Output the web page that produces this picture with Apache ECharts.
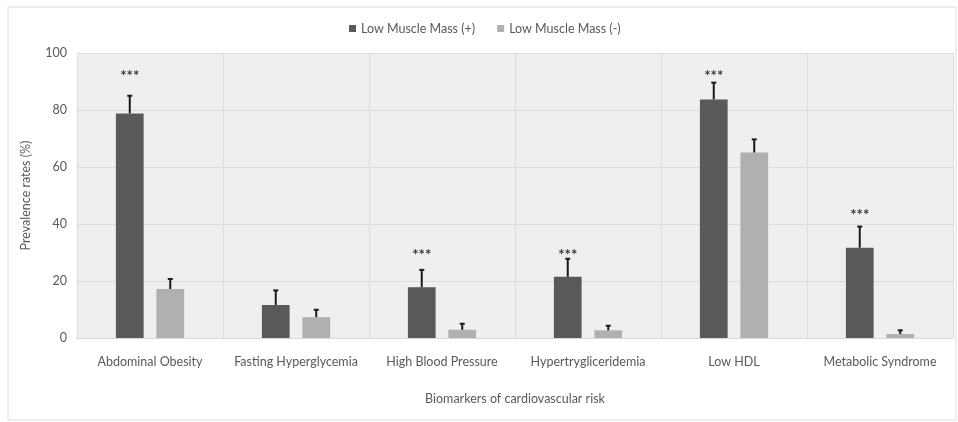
<!DOCTYPE html>
<html>
<head>
<meta charset="utf-8">
<script src="https://cdn.jsdelivr.net/npm/echarts@6/dist/echarts.min.js"></script>
<style>html,body{margin:0;padding:0;background:#fff}#c{width:958px;height:422px}</style>
</head>
<body>
<div id="c"></div>
<script>
var categories = ['Abdominal Obesity','Fasting Hyperglycemia','High Blood Pressure','Hypertrygliceridemia','Low HDL','Metabolic Syndrome'];
var seriesNames = ['Low Muscle Mass (+)','Low Muscle Mass (-)'];
var lowMassPos = [78.8, 11.6, 17.8, 21.5, 83.7, 31.7];
var lowMassPosErr = [85.0, 16.7, 23.9, 27.8, 89.6, 39.1];
var lowMassNeg = [17.2, 7.3, 2.9, 2.7, 65.1, 1.4];
var lowMassNegErr = [20.7, 9.9, 5.0, 4.3, 69.7, 2.7];
var significance = ['***', '', '***', '***', '***', '***'];
var significanceLevel = [93, null, 30, 30, 93, 44];
var yTicks = [0, 20, 40, 60, 80, 100];

var FONT = 'Lato';
var TXT = '#595959';
var FS = 12.5;
var BAR_W = 0.19, BAR_GAP = 0.46;

function errorSeries(name, means, uppers, side) {
  var data = means.map(function (m, i) { return [i, m, uppers[i], significanceLevel[i] == null ? 0 : significanceLevel[i]]; });
  return {
    type: 'custom',
    name: name + ' err',
    z: 5,
    silent: true,
    data: data,
    renderItem: function (params, api) {
      var idx = api.value(0);
      var band = api.size([1, 0])[0];
      var bw = band * BAR_W;
      var off = side * (bw + bw * BAR_GAP) / 2;
      var base = api.coord([idx, api.value(1)]);
      var top = api.coord([idx, api.value(2)]);
      var x = base[0] + off;
      var children = [
        { type: 'line', shape: { x1: x, y1: base[1], x2: x, y2: top[1] }, style: { stroke: '#1a1a1a', lineWidth: 2 } },
        { type: 'line', shape: { x1: x - 2.5, y1: top[1], x2: x + 2.5, y2: top[1] }, style: { stroke: '#1a1a1a', lineWidth: 2 } }
      ];
      var di = params.dataIndex;
      if (side < 0 && significance[di]) {
        var sp = api.coord([idx, api.value(3)]);
        children.push({ type: 'text', style: { text: significance[di], x: x, y: sp[1] + 3, align: 'center', verticalAlign: 'middle', fill: '#3a3a3a', font: 'bold 15px ' + FONT } });
      }
      return { type: 'group', children: children };
    }
  };
}

var chart = echarts.init(document.getElementById('c'), null, { renderer: 'canvas' });
chart.setOption({
  backgroundColor: '#ffffff',
  animation: false,
  textStyle: { fontFamily: FONT },
  graphic: [{ type: 'rect', shape: { x: 8, y: 7, width: 948, height: 413 }, style: { fill: 'none', stroke: '#dcdcdc', lineWidth: 1 }, silent: true, z: -1 }],
  legend: {
    data: seriesNames,
    top: 17,
    left: 344,
    itemWidth: 7,
    itemHeight: 7,
    itemGap: 22,
    icon: 'rect',
    textStyle: { color: TXT, fontSize: FS, fontFamily: FONT }
  },
  grid: {
    left: 77, right: 5, top: 53, bottom: 84,
    show: true, backgroundColor: '#efefef', borderWidth: 0
  },
  xAxis: {
    type: 'category',
    data: categories,
    name: 'Biomarkers of cardiovascular risk',
    nameLocation: 'middle',
    nameGap: 54,
    nameTextStyle: { color: TXT, fontSize: FS },
    axisLine: { lineStyle: { color: '#d9d9d9' } },
    axisTick: { show: false },
    axisLabel: { color: TXT, fontSize: FS, margin: 17, interval: 0 },
    splitLine: { show: true, interval: 0, lineStyle: { color: '#dcdcdc' } }
  },
  yAxis: {
    type: 'value',
    min: 0, max: 100, interval: 20,
    name: 'Prevalence rates (%)',
    nameLocation: 'middle',
    nameGap: 45,
    nameTextStyle: { color: TXT, fontSize: FS },
    axisLine: { show: false },
    axisTick: { show: false },
    axisLabel: { color: TXT, fontSize: FS, margin: 10, formatter: function (v) { return yTicks.indexOf(v) >= 0 ? String(v) : ''; } },
    splitLine: { show: true, lineStyle: { color: '#dcdcdc' } }
  },
  series: [
    { type: 'bar', name: seriesNames[0], data: lowMassPos, barWidth: (BAR_W * 100) + '%', barGap: (BAR_GAP * 100) + '%', itemStyle: { color: '#595959' } },
    { type: 'bar', name: seriesNames[1], data: lowMassNeg, barWidth: (BAR_W * 100) + '%', itemStyle: { color: '#b0b0b0' } },
    errorSeries(seriesNames[0], lowMassPos, lowMassPosErr, -1),
    errorSeries(seriesNames[1], lowMassNeg, lowMassNegErr, 1)
  ]
});
</script>
</body>
</html>
